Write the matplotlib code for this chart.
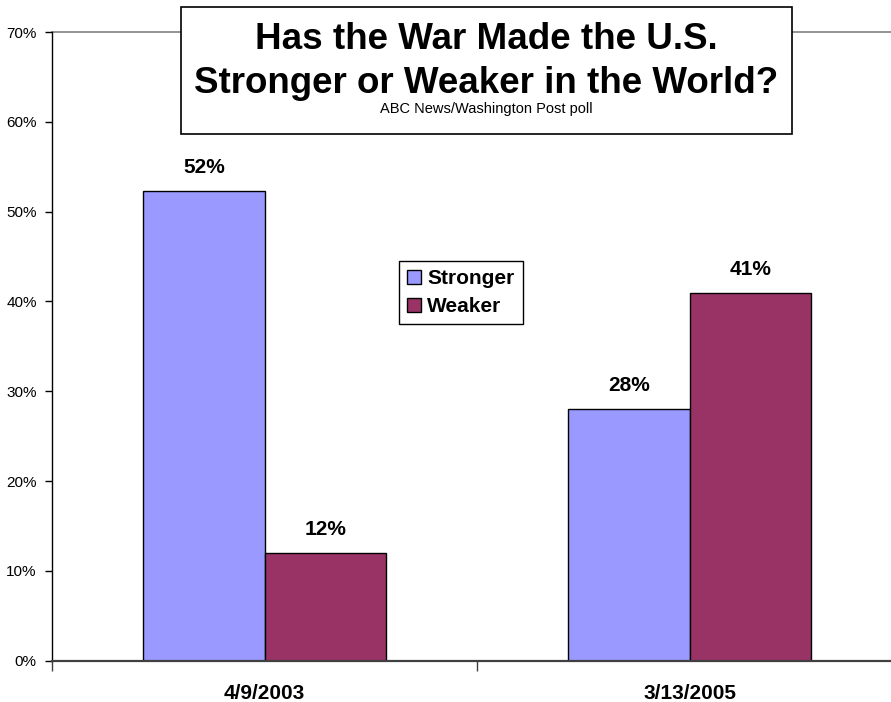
import numpy as np
import matplotlib.pyplot as plt
from matplotlib.patches import Rectangle, Patch

plt.rcParams['font.family'] = ['Liberation Sans', 'DejaVu Sans']

categories = ['4/9/2003', '3/13/2005']
stronger = [52.3, 28.0]
weaker = [12.0, 41.0]
series_names = ['Stronger', 'Weaker']
y_ticks = [0, 10, 20, 30, 40, 50, 60, 70]

c_strong = '#9999FF'
c_weak = '#993366'

W, H = 891, 702
fig = plt.figure(figsize=(W / 100, H / 100), dpi=100)

# plot area in pixels: x 52..902 (runs past the right edge), y 32..661
ax = fig.add_axes([52 / W, (H - 660.7) / H, 850 / W, 628.6 / H])

x = np.arange(len(categories))
bw = 0.285
b1 = ax.bar(x - bw / 2, stronger, bw, color=c_strong, edgecolor='black', linewidth=1, zorder=2)
b2 = ax.bar(x + bw / 2, weaker, bw, color=c_weak, edgecolor='black', linewidth=1, zorder=2)

for bars in (b1, b2):
    for b in bars:
        h = b.get_height()
        ax.annotate('%.0f%%' % h, (b.get_x() + b.get_width() / 2, h),
                    xytext=(0, 10), textcoords='offset points',
                    ha='center', va='bottom', fontsize=15, fontweight='bold')

ax.set_xlim(-0.5, 1.5)
ax.set_ylim(0, 70)
ax.axhline(70, color='#808080', lw=1.2, clip_on=False, zorder=1)

ax.set_yticks(y_ticks)
ax.set_yticklabels(['%d%%' % v for v in y_ticks], fontsize=11)
ax.tick_params(axis='y', direction='out', length=5, width=1, pad=6)

ax.set_xticks(x)
ax.set_xticklabels(categories, fontsize=15, fontweight='bold')
ax.tick_params(axis='x', which='major', length=0, pad=17)
ax.set_xticks([-0.5, 0.5, 1.5], minor=True)
ax.tick_params(axis='x', which='minor', direction='out', length=7, width=1, color='#404040')

for s in ('top', 'right'):
    ax.spines[s].set_visible(False)
ax.spines['left'].set_linewidth(1)
ax.spines['bottom'].set_linewidth(1.6)
ax.spines['bottom'].set_color('#404040')

# title box
box = Rectangle((181 / W, (H - 134) / H), 611 / W, 127 / H, transform=fig.transFigure,
                facecolor='white', edgecolor='black', linewidth=1.2, zorder=5)
fig.patches.append(box)
cx = 486.5 / W
fig.text(cx, (H - 49) / H, 'Has the War Made the U.S.', ha='center', va='baseline',
         fontsize=26.5, fontweight='bold', zorder=6)
fig.text(cx, (H - 93) / H, 'Stronger or Weaker in the World?', ha='center', va='baseline',
         fontsize=26.5, fontweight='bold', zorder=6)
fig.text(cx, (H - 113) / H, 'ABC News/Washington Post poll', ha='center', va='baseline',
         fontsize=10.5, zorder=6)

handles = [Patch(facecolor=c_strong, edgecolor='black', linewidth=1),
           Patch(facecolor=c_weak, edgecolor='black', linewidth=1)]
leg = fig.legend(handles, series_names, loc='upper left',
                 bbox_to_anchor=(399 / W, (H - 261) / H), borderaxespad=0,
                 fancybox=False, framealpha=1, edgecolor='black',
                 prop={'size': 15, 'weight': 'bold'},
                 handlelength=0.65, handleheight=0.65, handletextpad=0.3,
                 borderpad=0.4, labelspacing=0.42)
leg.get_frame().set_linewidth(1)

fig.savefig('out.png', dpi=100)
